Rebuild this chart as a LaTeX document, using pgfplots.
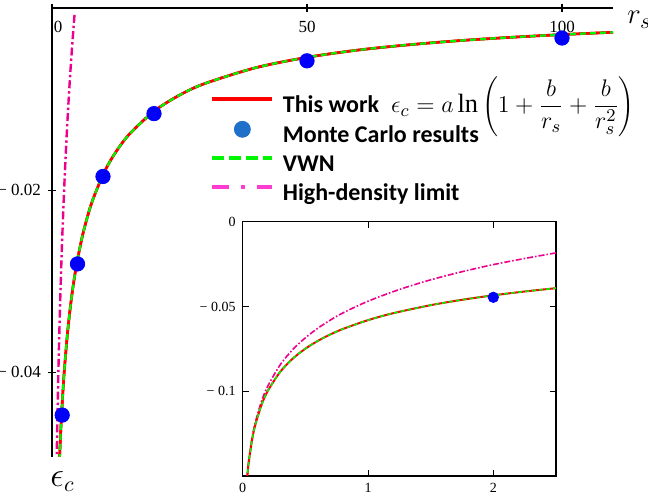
\documentclass[border=0pt]{standalone}
\usepackage{fontspec}
\setmainfont{Liberation Serif}
\newfontfamily\legfont{Carlito}
\usepackage{pgfplots}
\usepackage{pgfplotstable}
\pgfplotsset{compat=1.18}

\definecolor{mcblue}{RGB}{0,0,250}
\definecolor{legblue}{RGB}{30,112,200}
\definecolor{hdpink}{RGB}{255,60,210}
\definecolor{vwngreen}{RGB}{0,245,0}

% correlation energy, wide range
\pgfplotstableread{
rs    eps
1.2   -0.05400
1.5   -0.04923
1.75  -0.04607
2     -0.04343
2.25  -0.04117
2.5   -0.03921
3     -0.03594
3.5   -0.03330
4     -0.03110
4.5   -0.02923
5     -0.02762
6     -0.02495
7     -0.02282
8     -0.02106
10    -0.01832
12    -0.01626
15    -0.01396
20    -0.01134
25    -0.00957
30    -0.00829
40    -0.00655
50    -0.00542
60    -0.00462
70    -0.00404
80    -0.00358
90    -0.00322
100   -0.00292
110   -0.00267
}\mainfit

\pgfplotstableread{
rs    eps
0.9   -0.0502
1     -0.0469
1.25  -0.0400
1.5   -0.0343
1.75  -0.0295
2     -0.0253
2.5   -0.0184
3     -0.0127
3.5   -0.0079
4     -0.0038
4.45  -0.0005
}\mainhd

\pgfplotstableread{
rs    eps
2     -0.0447
5     -0.0281
10    -0.0185
20    -0.0116
50    -0.0058
100   -0.0033
}\mc

% small rs (inset)
\pgfplotstableread{
rs     eps
0.03   -0.15640
0.04   -0.14761
0.05   -0.14082
0.075  -0.12858
0.1    -0.12000
0.15   -0.10809
0.2    -0.09982
0.3    -0.08849
0.4    -0.08073
0.5    -0.07490
0.6    -0.07028
0.7    -0.06648
0.8    -0.06326
1.0    -0.05807
1.2    -0.05400
1.5    -0.04923
1.75   -0.04607
2      -0.04343
2.25   -0.04117
2.5    -0.03921
}\insetfit

\pgfplotstableread{
rs     eps
0.035  -0.1512
0.04   -0.1470
0.05   -0.1401
0.075  -0.1275
0.1    -0.1185
0.15   -0.1059
0.2    -0.0970
0.3    -0.0843
0.4    -0.0754
0.5    -0.0685
0.6    -0.0628
0.7    -0.0580
0.8    -0.0538
1.0    -0.0469
1.25   -0.0400
1.5    -0.0343
1.75   -0.0295
2.0    -0.0253
2.25   -0.0217
2.5    -0.0184
}\insethd

\begin{document}
\begin{tikzpicture}
\useasboundingbox (-26pt,-20pt) rectangle (298pt,228.5pt);

\begin{axis}[
    scale only axis, width=280.5pt, height=224.5pt,
    xmin=0, xmax=110, ymin=-0.0493, ymax=0,
    axis x line=top, axis y line=left,
    axis line style={-, line width=0.9pt},
    tick align=center, major tick length=4pt,
    tick style={black, line width=0.6pt},
    xtick={0,50,100},
    xticklabels={\makebox[0pt][l]{\hspace{1pt}0},50,100},
    xticklabel style={anchor=north, yshift=-5pt},
    ytick={-0.04,-0.02},
    yticklabels={− 0.04,− 0.02},
    ticklabel style={font=\fontsize{8.5}{9}\selectfont},
    xlabel={$r_s$}, ylabel={$\epsilon_c$},
    every axis x label/.style={at={(rel axis cs:1,1)}, anchor=north west,
        inner sep=0pt, xshift=7pt, yshift=-1.5pt, font=\fontsize{15}{16}\selectfont},
    every axis y label/.style={at={(rel axis cs:0,0)}, anchor=north west,
        inner sep=0pt, xshift=-1pt, yshift=-7pt, font=\fontsize{16}{17}\selectfont},
    legend style={at={(0.2816,0.8140)}, anchor=north west, draw=none, fill=none,
        inner sep=0pt, column sep=3pt, font={\fontsize{12}{14}\selectfont\legfont\bfseries},
        nodes={inner sep=1.25pt, text height=9pt, text depth=3pt}},
    legend cell align=left,
]
\addplot[red, line width=1.3pt, smooth,
    legend image code/.code={\draw[red, line width=2pt] (0pt,3.5pt) -- (30pt,3.5pt);}]
    table[x=rs, y=eps] {\mainfit};
\addlegendentry{This work\smash{\rlap{\hspace{6pt}\normalfont\fontsize{13.2}{15}\selectfont
    $\displaystyle \epsilon_c = a\ln\left(1+\frac{b}{r_s}+\frac{b}{r_s^2}\right)$}}}
\addplot[only marks, mark=*, mark size=3.6pt, mark options={fill=mcblue, draw=mcblue},
    legend image code/.code={\fill[legblue] (15pt,3.5pt) circle (4pt);}]
    table[x=rs, y=eps] {\mc};
\addlegendentry{Monte Carlo results}
\addplot[vwngreen, line width=1.1pt, smooth, dash pattern=on 3pt off 2pt,
    legend image code/.code={\draw[vwngreen, line width=2pt, dash pattern=on 6pt off 2.5pt] (0pt,3.5pt) -- (30pt,3.5pt);}]
    table[x=rs, y=eps] {\mainfit};
\addlegendentry{VWN}
\addplot[magenta, line width=1.2pt, smooth, dash pattern=on 4pt off 1.5pt on 1.2pt off 1.5pt,
    legend image code/.code={\draw[hdpink, line width=2pt, dash pattern=on 8.3pt off 6pt on 2.2pt off 6pt] (0pt,3.5pt) -- (30pt,3.5pt);}]
    table[x=rs, y=eps] {\mainhd};
\addlegendentry{High-density limit}
% lines again on top of the points
\addplot[red, line width=1.3pt, smooth, forget plot] table[x=rs, y=eps] {\mainfit};
\addplot[vwngreen, line width=1.1pt, smooth, dash pattern=on 3pt off 2pt, forget plot]
    table[x=rs, y=eps] {\mainfit};
\end{axis}

\begin{axis}[
    at={(95.35pt,-9.5pt)}, anchor=south west,
    scale only axis, width=156.65pt, height=127.15pt,
    xmin=0, xmax=2.5, ymin=-0.15, ymax=0,
    xtick={0,1,2}, xticklabels={0,1,2},
    ytick={-0.1,-0.05,0}, yticklabels={− 0.1,− 0.05,0},
    axis line style={line width=0.7pt},
    major tick length=3pt, tick style={black, line width=0.5pt},
    ticklabel style={font=\fontsize{7}{8}\selectfont},
    axis background/.style={fill=white},
]
\addplot[only marks, mark=*, mark size=2.6pt, mark options={fill=mcblue, draw=mcblue}]
    coordinates {(2,-0.0446)};
\addplot[magenta, line width=0.8pt, smooth, dash pattern=on 3pt off 1pt on 0.8pt off 1pt]
    table[x=rs, y=eps] {\insethd};
\addplot[red, line width=1pt, smooth] table[x=rs, y=eps] {\insetfit};
\addplot[vwngreen, line width=0.8pt, smooth, dash pattern=on 2pt off 1.5pt]
    table[x=rs, y=eps] {\insetfit};
\end{axis}
\end{tikzpicture}
\end{document}
